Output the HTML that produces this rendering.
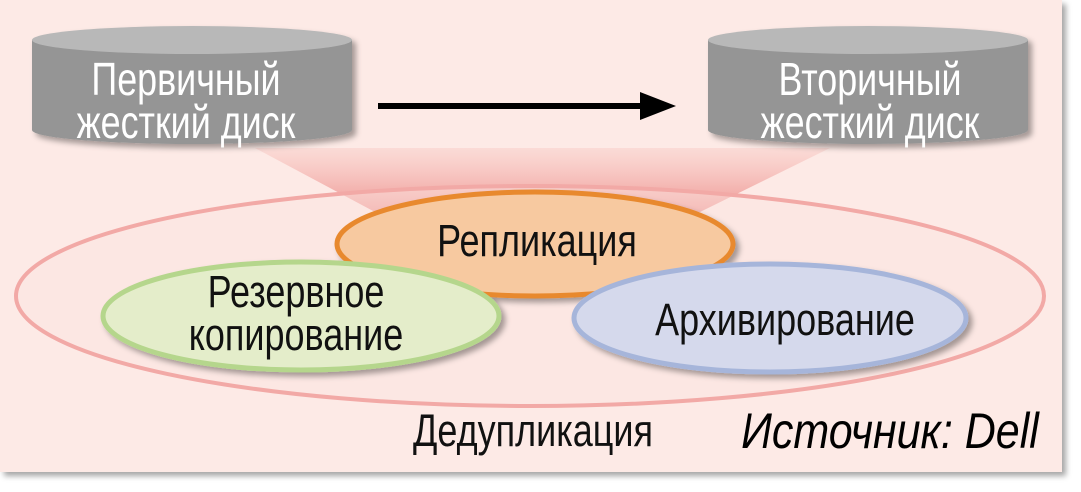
<!DOCTYPE html>
<html><head><meta charset="utf-8"><style>
body{margin:0;width:1081px;height:492px;background:#fff;overflow:hidden}
svg{display:block}
text{font-family:"Liberation Sans",sans-serif}
</style></head><body>
<svg width="1081" height="492" viewBox="0 0 1081 492">
<defs>
<linearGradient id="beam" x1="0" y1="0" x2="0" y2="1">
<stop offset="0" stop-color="#f6b8b2" stop-opacity="0.3"/>
<stop offset="1" stop-color="#ec8c89" stop-opacity="0.9"/>
</linearGradient>
<filter id="sh" x="-10%" y="-10%" width="130%" height="130%"><feDropShadow dx="4" dy="4" stdDeviation="3" flood-color="#000" flood-opacity="0.35"/></filter>
</defs>
<rect x="0" y="0" width="1062" height="472" fill="#fdeae6" filter="url(#sh)"/>
<polygon points="255,148 830,148 700,212 375,212" fill="url(#beam)"/>
<ellipse cx="530" cy="296" rx="514" ry="110" fill="#fbe3df" fill-opacity="0.5" stroke="#f2a9a6" stroke-width="4"/>
<g filter="url(#sh)">
<path d="M32 40 L32 130 A160 14 0 0 0 352 130 L352 40 Z" fill="#959595"/>
<ellipse cx="192" cy="40" rx="160" ry="14" fill="#b8b8b8"/>
<path d="M708 40 L708 130 A160 14 0 0 0 1028 130 L1028 40 Z" fill="#959595"/>
<ellipse cx="868" cy="40" rx="160" ry="14" fill="#b8b8b8"/>
</g>
<g font-size="46" fill="#fff" text-anchor="middle">
<text x="186" y="95" transform="translate(186 0) scale(0.78 1) translate(-186 0)">Первичный</text>
<text x="186" y="138" transform="translate(186 0) scale(0.78 1) translate(-186 0)">жесткий диск</text>
<text x="870" y="95" transform="translate(870 0) scale(0.78 1) translate(-870 0)">Вторичный</text>
<text x="870" y="138" transform="translate(870 0) scale(0.78 1) translate(-870 0)">жесткий диск</text>
</g>
<line x1="378" y1="106" x2="645" y2="106" stroke="#000" stroke-width="6"/>
<polygon points="640,92 676,106 640,120" fill="#000"/>
<g filter="url(#sh)">
<ellipse cx="535" cy="244" rx="198" ry="52" fill="#f7c9a0" stroke="#e8892e" stroke-width="5"/>
<ellipse cx="301" cy="316" rx="198" ry="54" fill="#e4edca" stroke="#b5d68c" stroke-width="5"/>
<ellipse cx="770" cy="318" rx="196" ry="54" fill="#d5d9ec" stroke="#a6b5da" stroke-width="5"/>
</g>
<g font-size="45" fill="#111" text-anchor="middle">
<text x="537" y="256" transform="translate(537 0) scale(0.8 1) translate(-537 0)">Репликация</text>
<text x="296" y="307" transform="translate(296 0) scale(0.8 1) translate(-296 0)">Резервное</text>
<text x="296" y="350" transform="translate(296 0) scale(0.8 1) translate(-296 0)">копирование</text>
<text x="785" y="335" transform="translate(785 0) scale(0.8 1) translate(-785 0)">Архивирование</text>
<text x="533" y="446" transform="translate(533 0) scale(0.8 1) translate(-533 0)">Дедупликация</text>
</g>
<text x="890" y="448" font-size="50" font-style="italic" fill="#000" text-anchor="middle" transform="translate(890 0) scale(0.86 1) translate(-890 0)">Источник: Dell</text>
</svg>
</body></html>
